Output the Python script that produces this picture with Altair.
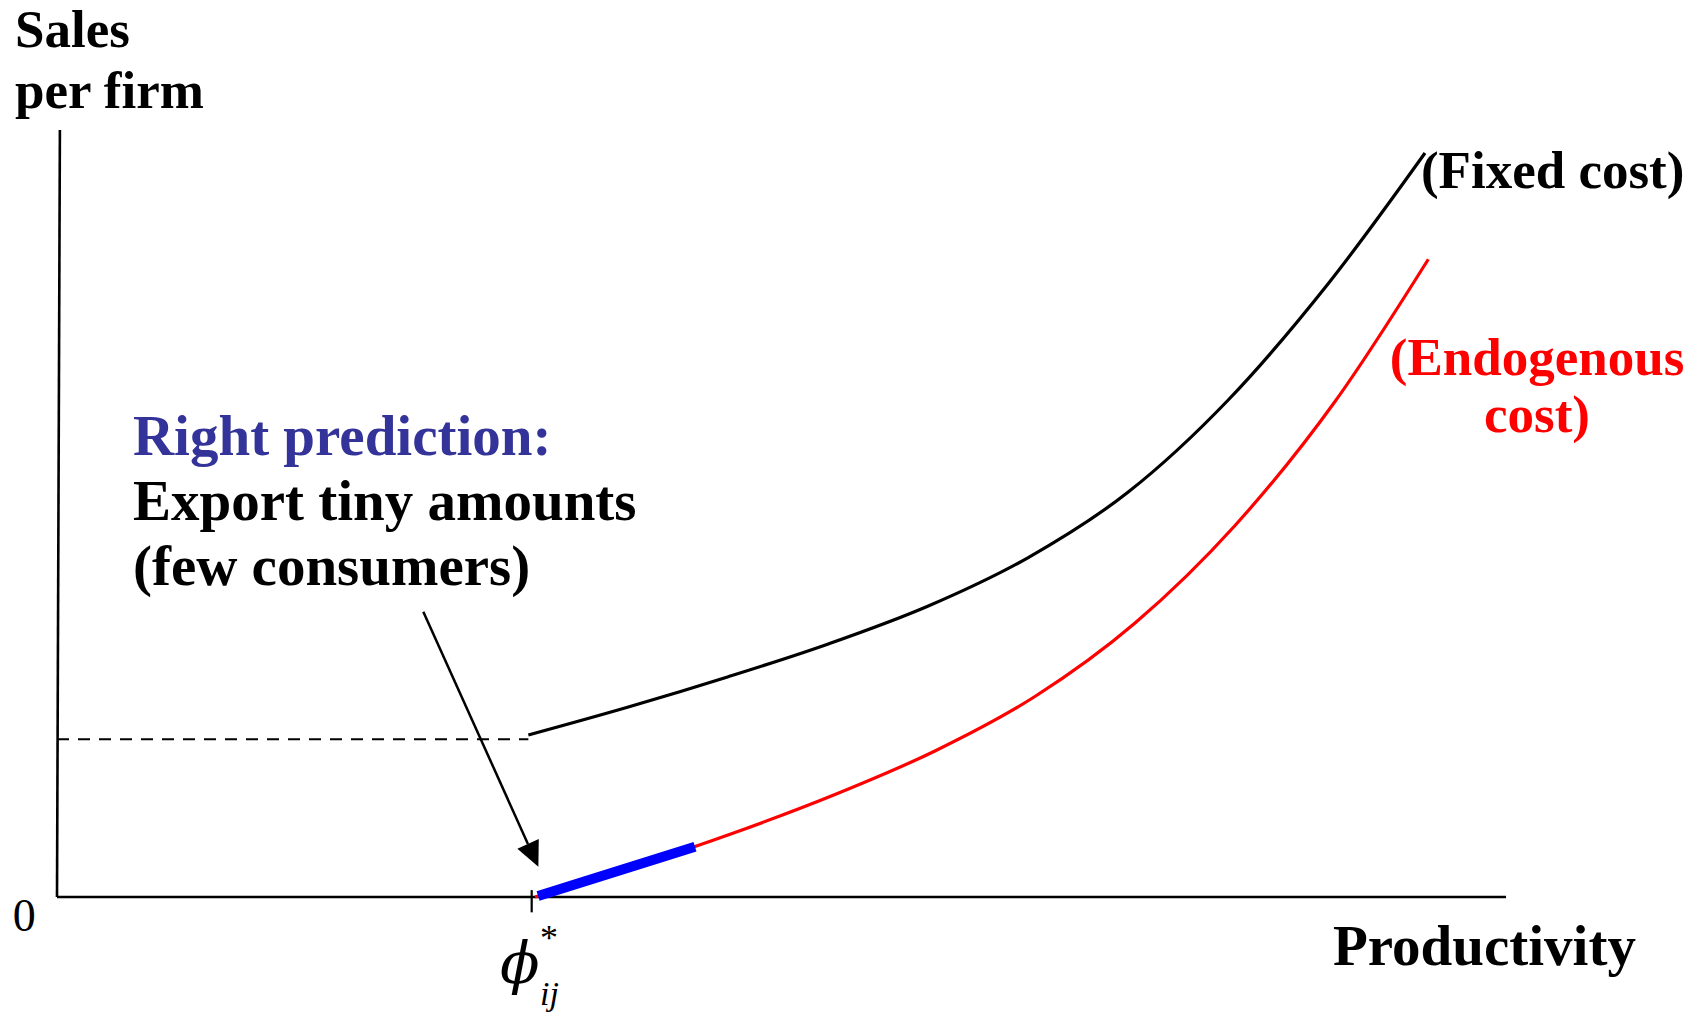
import altair as alt
import pandas as pd

# ---- data (arbitrary units: productivity on x, sales per firm on y) ----
fixed_x = [3.253, 3.943, 4.633, 5.323, 6.013, 6.703, 7.393, 8.083, 8.774, 9.441]
fixed_y = [2.112, 2.477, 2.872, 3.299, 3.794, 4.426, 5.280, 6.480, 7.999, 9.700]
endo_x = [3.299, 3.989, 4.679, 5.369, 6.059, 6.749, 7.440, 8.130, 8.820, 9.464]
endo_y = [0.000, 0.398, 0.841, 1.336, 1.904, 2.614, 3.572, 4.844, 6.460, 8.315]
blue_x = [3.320, 4.403]
blue_y = [0.012, 0.655]
cutoff_x = 3.276               # phi*_ij
fixed_start_sales = 2.056      # dashed level
axis_x_max = 10.0
axis_y_max = 10.0
arrow_start = [2.528, 3.720]
arrow_base = [3.250, 0.692]
arrow_tip = [3.322, 0.395]

label_texts_big = ["Export tiny amounts", "(few consumers)", "Productivity"]
label_x_big = [0.524, 0.524, 8.806]
label_y_big = [4.915, 4.068, -0.887]
blue_text = "Right prediction:"
blue_text_pos = [0.524, 5.763]
ylabel_texts = ["Sales", "per firm"]
ylabel_x = [-0.29, -0.29]
ylabel_y = [11.086, 10.283]
fixed_label = "(Fixed cost)"
fixed_label_pos = [9.413, 9.244]
endo_labels = ["(Endogenous", "cost)"]
endo_label_x = [10.214, 10.214]
endo_label_y = [6.806, 6.063]
zero_label_pos = [-0.306, -0.439]

# ---- scales ----
W, H = 1689, 1006
XMIN = -0.33816
XMAX = XMIN + W / 144.9
YMAX = 11.5906
YMIN = YMAX - H / 76.7
xs = alt.Scale(domain=[XMIN, XMAX], nice=False, zero=False)
ys = alt.Scale(domain=[YMIN, YMAX], nice=False, zero=False)
FONT = "Liberation Serif"


def X(f="x"):
    return alt.X(f"{f}:Q", scale=xs, axis=None)


def Y(f="y"):
    return alt.Y(f"{f}:Q", scale=ys, axis=None)


fixed_df = pd.DataFrame({"x": fixed_x, "y": fixed_y})
endo_df = pd.DataFrame({"x": endo_x, "y": endo_y})
blue_df = pd.DataFrame({"x": blue_x, "y": blue_y})

axes_df = pd.DataFrame({"x": [0.0, 0.0], "y": [0.0, 0.0], "x2": [axis_x_max, 0.02], "y2": [0.0, axis_y_max]})
axes = alt.Chart(axes_df).mark_rule(color="black", strokeWidth=2.6).encode(
    x=X(), y=Y(), x2="x2:Q", y2="y2:Q")

tick = alt.Chart(pd.DataFrame({"x": [cutoff_x], "y": [-0.2], "y2": [0.09]})).mark_rule(
    color="black", strokeWidth=2.2).encode(x=X(), y=Y(), y2="y2:Q")

dashed = alt.Chart(pd.DataFrame({"x": [0.0], "x2": [fixed_x[0]], "y": [fixed_start_sales]})).mark_rule(
    color="black", strokeWidth=2, strokeDash=[12, 9]).encode(x=X(), x2="x2:Q", y=Y())

fixed_line = alt.Chart(fixed_df).mark_line(color="black", strokeWidth=3.2, interpolate="monotone").encode(
    x=X(), y=Y())
endo_line = alt.Chart(endo_df).mark_line(color="#ff0000", strokeWidth=3.2, interpolate="monotone").encode(
    x=X(), y=Y())
blue_line = alt.Chart(blue_df).mark_line(color="#0000ff", strokeWidth=10, strokeCap="butt").encode(
    x=X(), y=Y())

arrow_shaft = alt.Chart(pd.DataFrame({"x": [arrow_start[0]], "y": [arrow_start[1]],
                                      "x2": [arrow_base[0]], "y2": [arrow_base[1]]})).mark_rule(
    color="black", strokeWidth=2.5).encode(x=X(), y=Y(), x2="x2:Q", y2="y2:Q")
arrow_head = alt.Chart(pd.DataFrame({"x": [arrow_tip[0]], "y": [arrow_tip[1]]})).mark_point(
    shape="M0,0 L-0.47,-1 L0.47,-1 Z", size=2500, filled=True, color="black", opacity=1,
    angle=335.7, strokeWidth=0).encode(x=X(), y=Y())

big_text = alt.Chart(pd.DataFrame({"x": label_x_big, "y": label_y_big, "t": label_texts_big})).mark_text(
    font=FONT, fontSize=57, fontWeight="bold", align="left", baseline="alphabetic", color="black").encode(
    x=X(), y=Y(), text="t:N")
blue_txt = alt.Chart(pd.DataFrame({"x": [blue_text_pos[0]], "y": [blue_text_pos[1]], "t": [blue_text]})).mark_text(
    font=FONT, fontSize=57, fontWeight="bold", align="left", baseline="alphabetic", color="#333399").encode(
    x=X(), y=Y(), text="t:N")
ylab = alt.Chart(pd.DataFrame({"x": ylabel_x, "y": ylabel_y, "t": ylabel_texts})).mark_text(
    font=FONT, fontSize=53, fontWeight="bold", align="left", baseline="alphabetic", color="black").encode(
    x=X(), y=Y(), text="t:N")
fixed_txt = alt.Chart(pd.DataFrame({"x": [fixed_label_pos[0]], "y": [fixed_label_pos[1]], "t": [fixed_label]})).mark_text(
    font=FONT, fontSize=53, fontWeight="bold", align="left", baseline="alphabetic", color="black").encode(
    x=X(), y=Y(), text="t:N")
endo_txt = alt.Chart(pd.DataFrame({"x": endo_label_x, "y": endo_label_y, "t": endo_labels})).mark_text(
    font=FONT, fontSize=53, fontWeight="bold", align="center", baseline="alphabetic", color="#ff0000").encode(
    x=X(), y=Y(), text="t:N")
zero_txt = alt.Chart(pd.DataFrame({"x": [zero_label_pos[0]], "y": [zero_label_pos[1]], "t": ["0"]})).mark_text(
    font=FONT, fontSize=46, align="left", baseline="alphabetic", color="black").encode(
    x=X(), y=Y(), text="t:N")
phi_txt = alt.Chart(pd.DataFrame({"x": [3.058], "y": [-1.121], "t": ["\u03d5"]})).mark_text(
    font="DejaVu Serif", fontSize=58, fontStyle="italic", align="left", baseline="alphabetic", color="black").encode(
    x=X(), y=Y(), text="t:N")
star_txt = alt.Chart(pd.DataFrame({"x": [3.333], "y": [-0.691], "t": ["*"]})).mark_text(
    font=FONT, fontSize=36, align="left", baseline="alphabetic", color="black").encode(
    x=X(), y=Y(), text="t:N")
ij_txt = alt.Chart(pd.DataFrame({"x": [3.333], "y": [-1.408], "t": ["ij"]})).mark_text(
    font=FONT, fontSize=34, fontStyle="italic", align="left", baseline="alphabetic", color="black").encode(
    x=X(), y=Y(), text="t:N")

chart = alt.layer(
    dashed, axes, tick, fixed_line, endo_line, blue_line, arrow_shaft, arrow_head,
    big_text, blue_txt, ylab, fixed_txt, endo_txt, zero_txt, phi_txt, star_txt, ij_txt,
).properties(
    width=W, height=H, padding=0, autosize=alt.AutoSizeParams(type="none"),
    background="white",
).configure_view(stroke=None)

chart.save("out.html", embed_options={"renderer": "svg", "actions": False})
